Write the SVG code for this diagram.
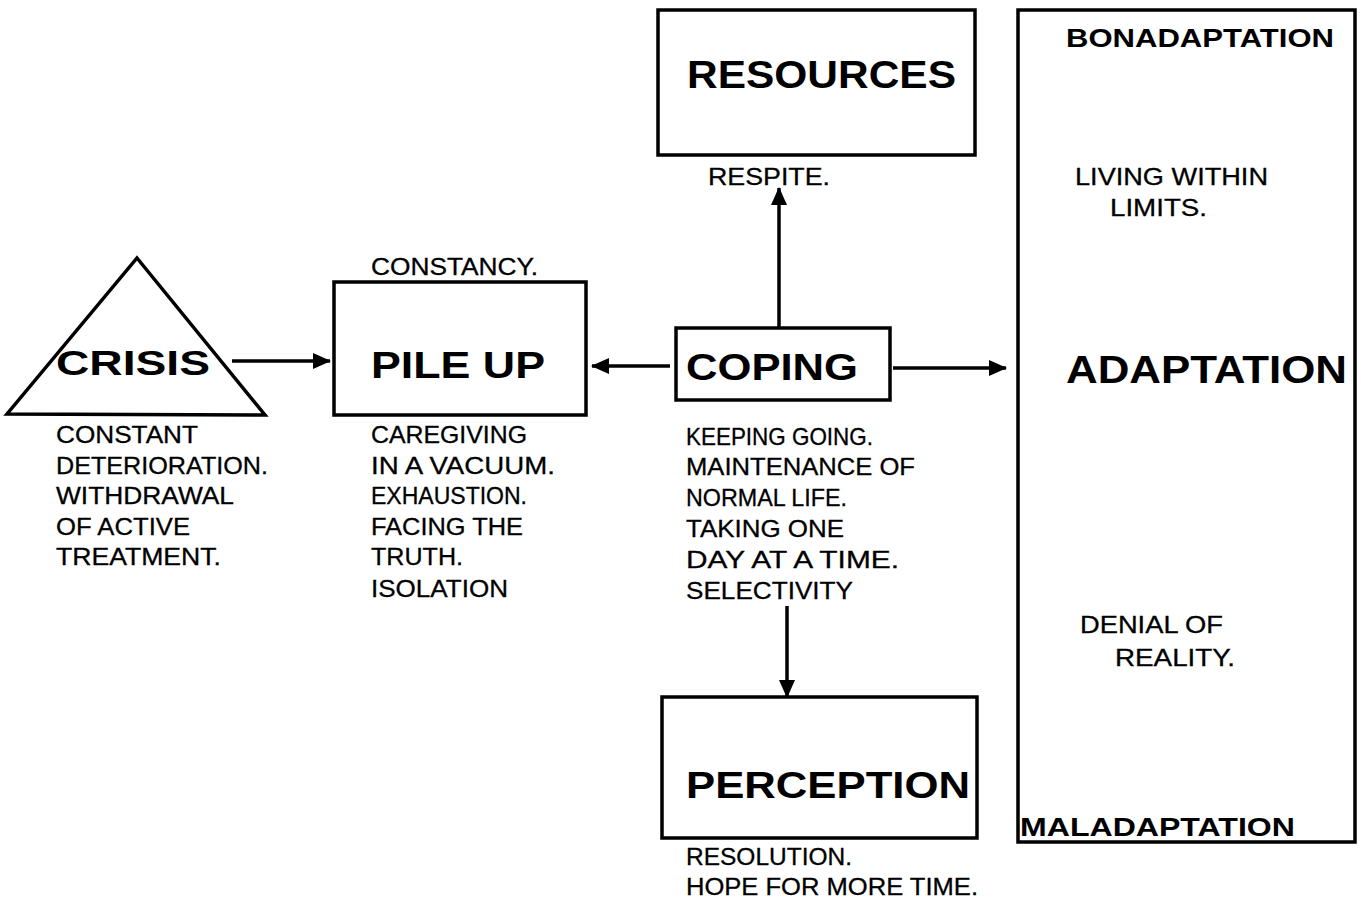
<svg xmlns="http://www.w3.org/2000/svg" width="1361" height="903" viewBox="0 0 1361 903">
<defs>
<style>
.shape{fill:none;stroke:#000;stroke-width:3.5;stroke-linejoin:miter}
.conn{fill:none;stroke:#000;stroke-width:3.5}
.t{font-family:"Liberation Sans",Arial,sans-serif;font-size:24.5px;fill:#000;stroke:#000;stroke-width:0.3}
.b{font-family:"Liberation Sans",Arial,sans-serif;font-weight:bold;fill:#000}
</style>
<marker id="ah" markerUnits="userSpaceOnUse" markerWidth="18" markerHeight="16" refX="17" refY="8" orient="auto">
<path d="M0,0 L18,8 L0,16 Z" fill="#000"/>
</marker>
</defs>
<rect width="1361" height="903" fill="#fff"/>

<g id="crisis">
<path class="shape" d="M137,258 L265,415 L7,414 Z"/>
<text class="b" x="56" y="375" font-size="35" textLength="154" lengthAdjust="spacingAndGlyphs">CRISIS</text>
<text class="t" x="56" y="443" textLength="142" lengthAdjust="spacingAndGlyphs">CONSTANT</text>
<text class="t" x="56" y="474" textLength="212" lengthAdjust="spacingAndGlyphs">DETERIORATION.</text>
<text class="t" x="56" y="504" textLength="178" lengthAdjust="spacingAndGlyphs">WITHDRAWAL</text>
<text class="t" x="56" y="535" textLength="134" lengthAdjust="spacingAndGlyphs">OF ACTIVE</text>
<text class="t" x="56" y="565" textLength="165" lengthAdjust="spacingAndGlyphs">TREATMENT.</text>
</g>

<g id="pileup">
<rect class="shape" x="334" y="282" width="252" height="133"/>
<text class="t" x="371" y="275" textLength="167" lengthAdjust="spacingAndGlyphs">CONSTANCY.</text>
<text class="b" x="371" y="378" font-size="36" textLength="174" lengthAdjust="spacingAndGlyphs">PILE  UP</text>
<text class="t" x="371" y="443" textLength="156" lengthAdjust="spacingAndGlyphs">CAREGIVING</text>
<text class="t" x="371" y="474" textLength="184" lengthAdjust="spacingAndGlyphs">IN A VACUUM.</text>
<text class="t" x="371" y="504" textLength="156" lengthAdjust="spacingAndGlyphs">EXHAUSTION.</text>
<text class="t" x="371" y="535" textLength="152" lengthAdjust="spacingAndGlyphs">FACING THE</text>
<text class="t" x="371" y="565" textLength="92" lengthAdjust="spacingAndGlyphs">TRUTH.</text>
<text class="t" x="371" y="597" textLength="137" lengthAdjust="spacingAndGlyphs">ISOLATION</text>
</g>

<g id="coping">
<rect class="shape" x="676" y="328" width="214" height="72"/>
<text class="b" x="686" y="380" font-size="37" textLength="172" lengthAdjust="spacingAndGlyphs">COPING</text>
<text class="t" x="686" y="445" textLength="187" lengthAdjust="spacingAndGlyphs">KEEPING GOING.</text>
<text class="t" x="686" y="475" textLength="229" lengthAdjust="spacingAndGlyphs">MAINTENANCE OF</text>
<text class="t" x="686" y="506" textLength="161" lengthAdjust="spacingAndGlyphs">NORMAL LIFE.</text>
<text class="t" x="686" y="537" textLength="158" lengthAdjust="spacingAndGlyphs">TAKING ONE</text>
<text class="t" x="686" y="568" textLength="213" lengthAdjust="spacingAndGlyphs">DAY AT A TIME.</text>
<text class="t" x="686" y="599" textLength="167" lengthAdjust="spacingAndGlyphs">SELECTIVITY</text>
</g>

<g id="resources">
<rect class="shape" x="658" y="10" width="317" height="145"/>
<text class="b" x="687" y="88" font-size="38" textLength="269" lengthAdjust="spacingAndGlyphs">RESOURCES</text>
<text class="t" x="708" y="185" textLength="122" lengthAdjust="spacingAndGlyphs">RESPITE.</text>
</g>

<g id="perception">
<rect class="shape" x="662" y="697" width="315" height="141"/>
<text class="b" x="686" y="798" font-size="37" textLength="284" lengthAdjust="spacingAndGlyphs">PERCEPTION</text>
<text class="t" x="686" y="865" textLength="166" lengthAdjust="spacingAndGlyphs">RESOLUTION.</text>
<text class="t" x="686" y="895" textLength="292" lengthAdjust="spacingAndGlyphs">HOPE FOR MORE TIME.</text>
</g>

<g id="adaptation">
<rect class="shape" x="1018" y="10" width="337" height="832"/>
<text class="b" x="1066" y="47" font-size="26" textLength="268" lengthAdjust="spacingAndGlyphs">BONADAPTATION</text>
<text class="t" x="1075" y="185" textLength="193" lengthAdjust="spacingAndGlyphs">LIVING WITHIN</text>
<text class="t" x="1110" y="216" textLength="97" lengthAdjust="spacingAndGlyphs">LIMITS.</text>
<text class="b" x="1066" y="383" font-size="38" textLength="281" lengthAdjust="spacingAndGlyphs">ADAPTATION</text>
<text class="t" x="1080" y="633" textLength="143" lengthAdjust="spacingAndGlyphs">DENIAL OF</text>
<text class="t" x="1115" y="666" textLength="120" lengthAdjust="spacingAndGlyphs">REALITY.</text>
<text class="b" x="1020" y="836" font-size="26" textLength="275" lengthAdjust="spacingAndGlyphs">MALADAPTATION</text>
</g>

<g id="connectors">
<line class="conn" x1="232" y1="361" x2="330" y2="361" marker-end="url(#ah)"/>
<line class="conn" x1="670" y1="366" x2="592" y2="366" marker-end="url(#ah)"/>
<line class="conn" x1="893" y1="368" x2="1006" y2="368" marker-end="url(#ah)"/>
<line class="conn" x1="779" y1="328" x2="779" y2="188" marker-end="url(#ah)"/>
<line class="conn" x1="787" y1="606" x2="787" y2="697" marker-end="url(#ah)"/>
</g>
</svg>
